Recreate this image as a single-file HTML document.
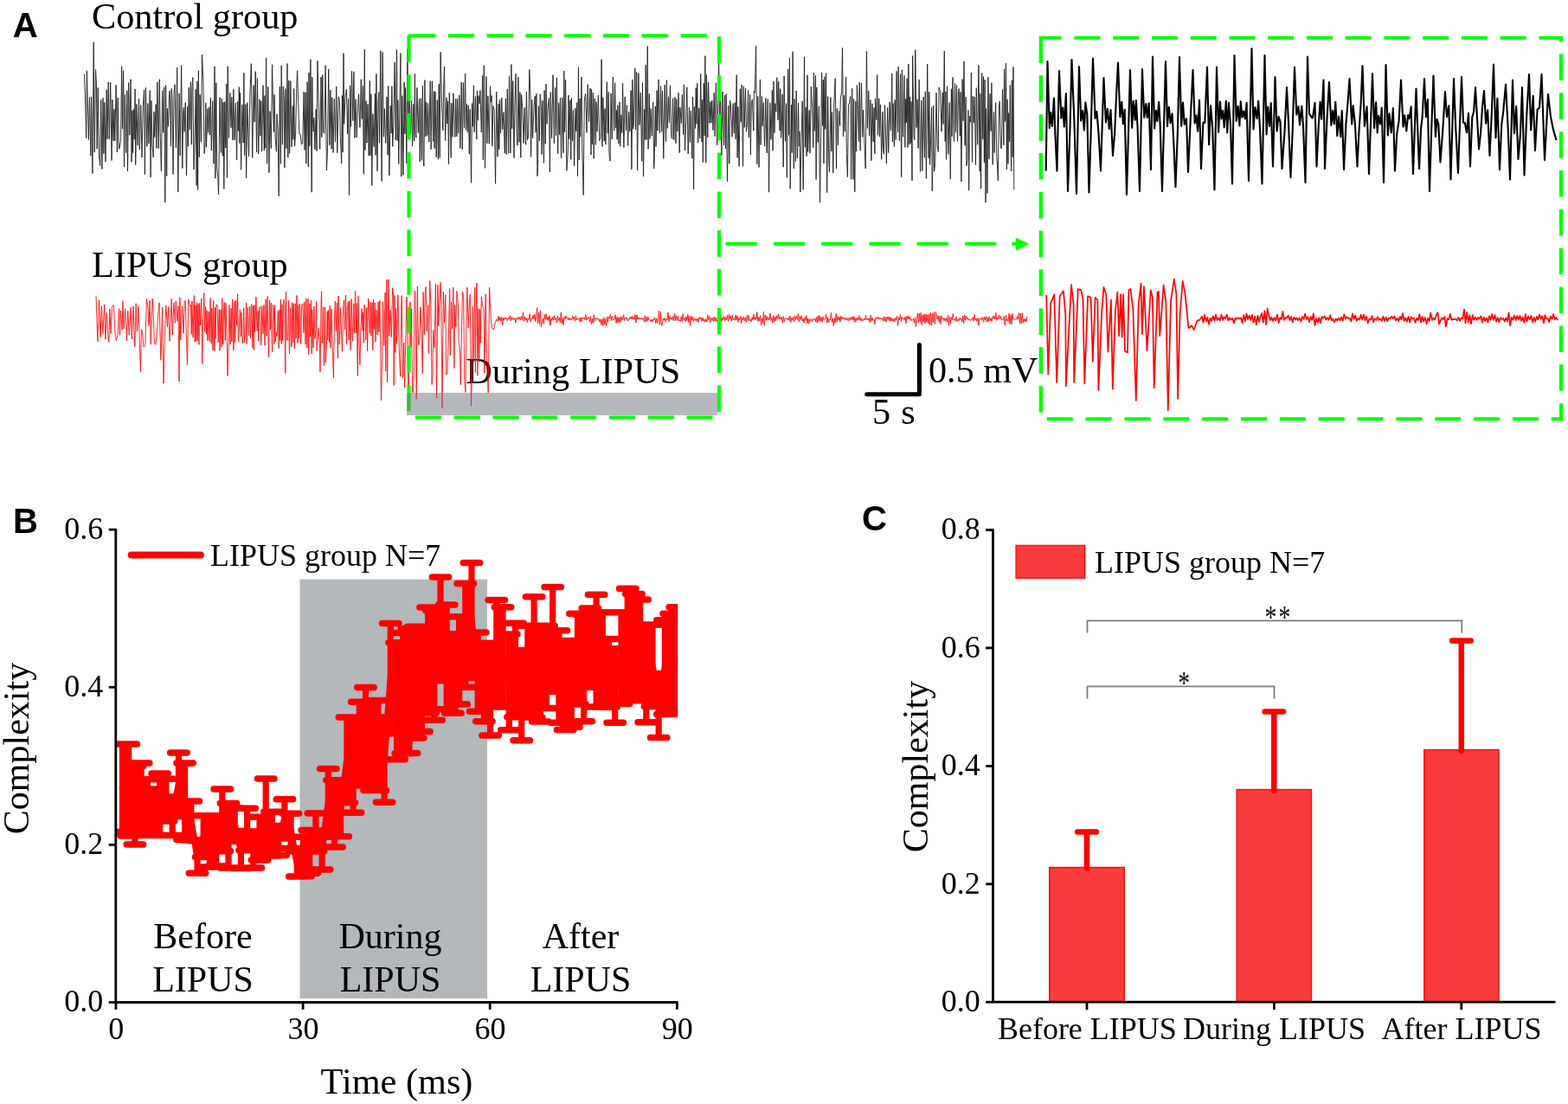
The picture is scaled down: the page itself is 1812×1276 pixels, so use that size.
<!DOCTYPE html>
<html lang="en">
<head>
<meta charset="utf-8">
<title>LIPUS complexity figure</title>
<style>
html,body{margin:0;padding:0;background:#fff;}
body{width:1812px;height:1276px;overflow:hidden;}
svg{display:block;}
</style>
</head>
<body>
<svg width="1812" height="1276" viewBox="0 0 1812 1276">
<rect width="1812" height="1276" fill="#fff"/>
<g id="panelA">
<g font-family='"Liberation Serif", serif' fill="#000">
<text x="106" y="33" font-size="42.3">Control group</text>
<text x="106" y="319.8" font-size="42.3">LIPUS group</text>
</g>
<text transform="translate(14.7,43.4) scale(0.98,1)" font-family='"Liberation Sans", sans-serif' font-weight="bold" font-size="41">A</text>
<g font-family='"Liberation Serif", serif' fill="#000">
<text x="538.3" y="443.3" font-size="42.3">During LIPUS</text>
<text x="1073" y="442" font-size="42.2">0.5 mV</text>
<text x="1008" y="490" font-size="42.3" word-spacing="1.5">5 s</text>
</g>
<path d="M1001.7,455.8 H1062.4 V398.4" fill="none" stroke="#000" stroke-width="5" stroke-linecap="round" stroke-linejoin="round"/>
<path d="M97.5,85.8 98.8,124.2 99.7,159.7 100.3,81.8 101,105 102.4,161.4 103.5,112.4 104.8,180.1 105.6,111.8 106.9,200.5 108.2,48.8 109.2,176.1 110.5,80.2 111.4,96.7 112.1,172.2 113.2,101.4 114.4,180.2 115.7,191.5 116.7,115.5 117.9,195.4 119,113.2 119.9,177.7 120.8,118.4 122,187.1 123.2,103.8 124.1,160.6 125.2,94.9 126.3,160.7 127.7,95.3 129,185.5 129.9,115.2 131,162.7 132,126.1 132.8,163 134.1,98.3 135.4,176 136.2,112.9 137.4,172.3 138.3,170.5 139.6,161.8 140.6,76.7 141.5,148.9 142.6,81.6 143.5,192.8 144.4,109.5 145.7,176.7 146.8,104.6 147.5,197.7 148.6,95.5 149.8,156.2 151,91.7 152.1,187.2 152.9,127.6 153.6,176.6 154.5,126.5 155.2,161.2 156.1,102.9 156.7,190.5 157.9,120.4 159.2,168.2 160.5,114 161.3,172.8 162.7,121.5 164,182 165.3,122.3 166.6,103.9 167.4,201.6 168.4,101.3 169.8,169.2 170.9,119.5 171.9,165.9 173.2,104.6 174.1,204.9 174.9,116.4 176,167 177.1,181.8 177.9,129 178.7,158.6 180.1,120.6 180.8,171.4 181.8,94.8 183.2,171.6 184.3,91.7 185.2,153.7 186.4,197.7 187.7,104.6 188.7,153.3 189.7,100.9 190.8,234 191.6,98.7 192.7,203.4 193.3,125.3 194.4,146.2 195.5,109.5 196.2,105.1 197.5,169 198.2,102.4 199,115.7 200.1,201.6 201,106.6 202.1,97.6 203.4,170.7 204.7,78.2 205.8,221.9 207.1,107.9 208.2,179.8 209.6,75.7 210.8,194.6 211.7,130.6 212.4,124.2 213.1,152.2 214.3,118.4 215.5,202.8 216.7,123.2 217.4,169.1 218.2,101.1 219.3,149.7 220.4,94.6 221.3,167.1 222,102.7 222.8,89.5 224,196 225,166.1 226.2,103.3 227.1,214.4 227.9,93.9 228.6,219.5 229.4,81.8 230.4,181.6 231.1,109.3 232.4,164.1 233.5,63.2 234.9,93.7 236.1,177.6 237.1,166 237.8,118.8 238.5,170.3 239.8,125.5 240.6,153.2 241.7,123.9 242.4,155.9 243.4,113 244.3,174 245.7,116.7 246.9,189.2 248,76.9 248.9,206.2 249.8,95.8 250.7,194.4 251.8,204.6 252.6,224.9 254,112.5 255.4,176.5 256.3,114 257.3,180.2 258.1,118.3 258.8,218.4 259.8,117.6 260.8,170.9 261.7,96.8 262.4,205.5 263.2,76.7 264.4,159.6 265.8,107.4 267,147.6 267.8,112.2 269,162 269.8,103.4 271.1,161.7 272.4,118.8 273.6,185 274.6,117.5 275.3,151.4 276.3,100.6 276.9,165.5 277.6,107.2 278.6,196.4 279.9,120.9 281.2,165.1 281.9,84.2 282.6,179.5 283.9,120.5 284.6,205.7 285.8,118.6 286.7,149 287.5,180.7 288.9,108.6 290.3,73.6 291.7,182.3 293.1,98.6 294.1,141 295.2,82.6 296.6,175.9 297.4,90.4 298.7,178 300,114.8 300.9,156.9 301.8,116.9 302.6,174.7 304,98.6 305.3,174 305.9,110.6 306.7,171.1 307.6,66.9 308.6,189.2 309.8,100.2 310.9,199.6 312,128.6 313.3,171.7 314.5,74.7 315.3,107 316.4,152.4 317.2,109.6 318.1,159.4 319.4,175.2 320,132 321.2,151.8 322.2,226.7 323.3,100.3 324.4,189.4 325.2,75.8 326.4,167.2 327.3,99.9 328.2,115.9 328.9,193.9 329.8,102.5 330.9,171.8 332,73.4 332.8,182 333.8,93.1 334.6,177.3 335.8,93.6 337,169.7 338.3,122.6 339,161.4 339.7,102.4 340.5,169 341.6,154.5 342.8,99.6 343.6,81.8 344.4,109.2 345.8,154.7 347.1,155.2 348.4,167.1 349.7,165.1 351.1,106 352,173.3 353.1,106.9 353.8,189.1 355.1,94.6 356.3,192.8 357,84.1 357.8,169 358.9,68.7 360.2,222.2 360.8,89.2 361.4,137.6 362.2,152.2 362.9,136 363.9,172.8 365.2,126.2 366,174.5 366.9,70.3 368.2,115.9 369.7,172.3 371,89 371.8,158.5 372.8,86.4 373.6,152.8 375,154.2 376.1,75.6 377.4,197 378.4,177.2 379.7,79.9 380.9,167.6 381.9,104.2 383.1,172.2 383.8,112.7 385.1,176.4 386.3,114.1 387.5,163.7 388.7,99.9 389.8,176.7 391.1,111.8 392.4,116.5 393.3,158.4 394.7,189.1 395.4,110.5 396.1,176 397,61.5 397.7,143.5 399.1,110.8 400.4,103.2 401.6,154.8 402.5,113.8 403.5,225.4 404.6,98.8 405.5,146.2 406.5,82.3 407.8,139.6 408.9,82.7 409.9,159.3 411.1,114.9 412.2,158.9 413.6,122.6 414.5,108.7 415.9,147.2 417.3,91.7 418.2,137.6 419.4,99 420.3,201.3 421.3,57.2 422,173.6 423.1,116.6 423.9,165 425,120.5 426.2,179.9 427.3,93.4 428,179.7 428.9,108.7 429.8,214.4 430.8,131.6 432.2,169.6 433.4,108.2 434.1,179.4 434.9,85.5 436,197.7 437.1,117 437.8,106.6 438.5,165.3 439.8,58.6 441.1,209.3 442.1,60.3 443.4,158.2 444.3,125.6 445.7,165.3 447,111.9 448,179.1 448.7,99.2 449.9,202.9 451.3,122.3 452.1,154 452.9,99.6 453.7,169.3 454.8,144.4 456.1,71.9 457.3,161.7 458.5,57.5 459.2,162.7 459.8,115.7 460.8,189.5 462.1,113.4 462.9,61.4 463.7,204.2 464.9,110.6 465.9,202.3 467.2,95 467.9,154.7 468.6,101.5 469.9,189.1 470.8,56.6 472,138.7 473.2,110.6 474.5,155.2 475.6,116.3 476.6,169.1 477.8,120.4 478.7,163 479.4,85.2 480.1,154.3 480.9,159 481.9,101.3 483.3,153.5 484.5,114.2 485.2,186.9 486.4,113.6 487.4,185.3 488.4,98.9 489.2,179.5 489.9,192 490.9,92.5 491.9,157.9 492.6,118.1 493.9,156.5 494.6,119.5 495.8,164 497.2,93.7 498.1,172.7 499.4,93.9 500.6,163.5 501.5,105.5 502.2,171.5 503,105.9 504.2,181.7 505.3,115.5 506.4,184.2 507.2,97.1 508.2,182.4 509.1,60.2 510.5,119.9 511.9,150.6 512.7,100.2 513.5,76.9 514.6,162.5 516,112.9 516.9,143 517.6,116.8 518.5,189.7 519.2,107.3 520,123.5 521.2,182.3 521.9,118.9 523.1,158.4 523.9,107.8 524.9,130.5 525.8,158.4 526.7,113.9 527.8,157.8 528.6,114.4 529.6,154.1 530.8,109.8 531.9,171.4 533.2,94.8 534.3,172.7 535.4,95.5 536.5,147.8 537.6,85.2 538.5,150.2 539.5,120.4 540.3,152.7 541.3,121.9 542.3,178.2 543.2,126.3 544.6,211.3 545.5,119.5 546.3,146.3 547.4,98.9 548.1,152.8 549.5,111.6 550.8,161.1 551.4,105 552.2,139.1 552.9,110.5 554.2,120 554.9,104.6 556.3,153 557.6,87.1 558.3,184.8 559.3,75.7 560.5,194.3 561.9,88.4 562.9,165.7 563.9,110.9 565.3,166.2 566.5,99.7 567.4,117.7 568.2,110.6 568.9,168.8 569.9,122.7 571.2,127.2 572.6,212.3 573.7,106 575.1,181.1 576.1,120.2 576.8,172.7 577.6,115.3 578.5,153.7 579.8,112.9 580.7,149.8 582,129.7 583.3,177.2 584.4,113.9 585.2,178.6 586.3,102.8 587.6,177.2 588.5,87.8 589.9,177 590.9,74.5 591.7,148.8 592.8,93.5 594,182.5 595,116.9 596.1,85.2 596.9,147.2 598,168 598.9,89.2 600,164.2 600.9,106.6 601.8,182.2 602.6,109.3 603.8,125.6 605.1,165.3 606.2,124.4 607.6,167.2 608.4,105.8 609.5,161.8 610.5,158.9 611.8,80.4 612.9,109.4 613.6,181.3 614.7,115.3 615.6,159.6 617,123 618.2,111.2 619.1,153 619.9,108.3 620.9,203.6 621.6,192.6 622.4,122.5 623.3,162.8 624.2,108.8 625.3,122.4 626.1,178.4 627.1,116.2 628.5,188.4 629.1,104.6 630.3,166.4 631,97 632.1,143.4 633.1,123.3 634.5,113.4 635.4,198.9 636.3,106.4 637.6,159.7 639,86.5 640.4,165.7 641.6,101.2 642.5,156.7 643.4,89.8 644.7,177.7 645.7,118.8 646.7,155.7 647.5,113.1 648.5,183 649.8,113 651,176.7 651.8,81.9 652.5,152.7 653.6,92.2 654.9,197.3 656.3,173.7 657,110.1 657.9,160.6 659,115.8 659.8,184.2 660.4,113.3 661.6,162.9 662.5,127.4 663.6,191.7 664.9,125 665.9,151.7 666.8,118.6 667.5,203.6 668.5,77.7 669.3,185 670,114 670.7,158.2 672,89 672.9,176 674.2,225.4 675.3,115.2 676.7,108.5 678,153.4 679.2,97.6 680.6,140.7 682,102 683,178.9 683.6,103.3 684.4,167 685.4,107.2 686.2,183.4 687.2,113.9 688.4,167.4 689.1,117.6 690.1,152.2 691.4,110 692.8,162.7 694.1,159 695.1,68.7 696,169.4 696.9,112.8 698.3,163.1 699,125.6 699.9,166.9 701.3,94.7 702.3,153.9 703.2,106.3 703.9,176.7 705.1,186.1 706,108 707.3,161 708.3,89 709.7,151 710.6,95.7 711.6,147.8 712.5,127.5 713.1,161.2 713.9,121.5 714.8,166.1 716.1,117.9 716.7,169.3 717.9,132.9 718.8,153.3 719.6,96.3 720.9,170.4 722.2,111.9 722.9,132.1 723.6,150.7 724.4,121.6 725.7,168.3 726.7,129.4 727.8,151.9 729.1,104.6 729.9,195.8 730.9,91.9 731.6,149.2 732.3,143 733.1,105.6 733.8,78.8 734.5,150.1 735.7,83.3 736.6,197.1 737.9,84.6 739,144.5 740.3,106.9 741.7,186.3 742.5,95.7 743.5,204.1 744.7,126.2 745.5,161.5 746.2,74.9 747.2,161.4 748.3,53.3 749.1,172.2 750.3,108.3 751,160.4 752.1,125.5 753.3,157.1 754.2,128.1 754.8,118.1 755.6,195 756.2,186.6 757.3,122.8 758.1,169.4 759.1,104.5 760,151.1 761.1,91.9 762.4,153.7 763.6,99.4 764.7,152.2 765.5,105 766.8,183.3 768.2,97.9 769.5,163.7 770.4,92.5 771.2,148.3 772.5,111.8 773.4,141.8 774.5,98.7 775.8,158.8 777,160.4 777.6,113.7 778.8,161.7 779.9,112.4 781,165.6 781.7,114.6 782.9,151.9 784.1,107.3 785.2,176.5 785.9,124.1 787.3,142.6 788.4,109.2 789.7,155.5 790.4,97.8 791.5,174.1 792.2,156.5 792.8,138.3 793.8,100.7 795.2,177.8 796.5,123.9 797.4,164.5 798.4,128 799.8,183 800.6,112 801.6,218.9 802.3,123.4 803.5,148.4 804.2,101.5 804.9,143.2 805.8,96.4 806.7,165.2 807.9,125.1 808.7,160 809.7,85.4 811,163.9 811.7,115.3 812.3,187.5 813.2,96 814.1,156.8 814.9,64.6 815.8,188.2 816.5,86.6 817.8,158.8 818.6,94.9 819.9,142.3 821,117.7 821.9,142 822.8,116.3 824,150.5 825.2,107.2 826.2,157.6 827.4,95.8 828.8,167.7 829.7,119.2 830.6,68.8 831.7,149.2 832.6,109.5 833.9,179.7 835.1,106 836.5,167.8 837.5,110 838.5,171.7 839.2,108.6 840.5,209.8 841.7,122.1 842.8,189.2 843.6,116 844.6,122.9 846,158.2 847.2,119.5 848.3,154 849.3,118.4 850.2,160.9 851.2,86.6 852.1,182.3 852.9,123.2 854.1,192.2 855.3,102.7 856.2,141.2 857.2,98 858.6,192.2 859.4,99.8 860.2,147.2 861.6,101.9 862.4,152.2 863.8,140.8 864.6,104.5 865.3,158.9 866.7,109.3 867.4,178.9 868.3,118.9 869.4,114.8 870.8,151.1 871.4,105.4 872.3,107.2 873.6,53.4 874.9,189.6 875.8,111.3 877.1,193.4 878.4,91.9 879.1,167.5 880.4,111.4 881.1,145.8 882.3,118.4 883.6,169.1 884.9,113.5 886.1,176.8 887.3,114.5 888.6,222.2 889.8,118.8 891,161.3 892.4,104.2 893.1,174.2 894,93.9 895,153.6 895.9,119.6 896.9,128.9 897.8,89.7 899,138.7 899.7,94.4 901.1,150.8 901.8,102.5 902.6,159.6 903.3,146.6 904.1,109 905.2,193.1 906.1,88 907.5,163.1 908.6,119.7 909.3,205.2 910.7,79.9 911.6,156.3 912.5,66.8 913.2,218 914.6,121.2 915.2,176.6 916.1,59.7 917.3,194.7 918.1,114.4 919.4,186.5 920.2,105 921.4,182.7 922.6,119.2 923.3,169.1 923.9,151.8 924.9,222 925.9,161.9 927.2,116.8 928.2,219.1 929.5,65.8 930.4,170.1 931.2,124.2 932.1,180.7 933,86.7 933.7,175.5 935.2,127.4 936,177.1 937.3,100.2 938.7,124.4 939.8,170.7 940.5,84.1 941.3,151.3 942.5,86.9 943.1,207.5 943.8,100.9 945.1,164.4 946.4,122.8 947.5,234 948.6,164.1 949.6,83.9 950.6,145.2 951.3,92.3 952,189 952.8,88.6 953.8,149.2 954.6,84.6 955.7,222.6 956.7,111.6 957.8,185.5 958.5,198.7 959.9,112.6 960.9,174.9 961.6,129.6 962.8,200.1 963.9,117.9 965.2,90.5 966.5,195 967.3,125.4 968.5,167.6 969.4,128.5 970.7,145.2 971.3,114.4 972.7,106 973.5,55.2 974.5,157.8 975.5,110 976.3,152.1 977.6,89 978.3,176.6 979.4,204.7 980.6,120.5 981.6,119.1 982.8,111.5 983.6,207.3 984.7,102.2 986,207.4 986.6,114.5 987.8,221.7 988.9,117.1 989.6,175 990.4,98.6 991.3,121.6 992.5,163.5 993.2,95 994.2,174.1 995.5,96 996.7,158.5 997.6,127 998.9,163.5 1000.2,194.9 1001.5,59.2 1002.4,148.4 1003.8,105.1 1004.6,157 1005.9,115.4 1006.9,185.7 1008,119.8 1009.2,163.9 1010.1,124.5 1010.9,177.8 1011.5,113.8 1012.9,138.5 1013.7,86.5 1014.5,156.3 1015.8,113.9 1016.5,157.8 1017.4,121 1018.7,184.3 1020,129.2 1020.6,171.7 1021.4,178.1 1022.5,121.6 1023.5,154.5 1024.4,189 1025.7,124.3 1026.7,176.5 1028.1,117.9 1029.4,150.9 1030.8,85 1031.4,163.8 1032.1,119.6 1033.4,169.6 1034.1,115.3 1035.2,161.7 1036.1,82.1 1037.5,152.8 1038.2,77 1039.4,162.7 1040.6,85.5 1041.7,204.6 1042.4,80.8 1043.6,158.2 1044.9,87.2 1045.9,170.3 1046.7,114.4 1047.4,141.7 1048.1,90.6 1049,170.5 1049.9,73.9 1050.9,167.2 1051.6,111.9 1052.3,165.5 1053.1,117.4 1054,208.7 1054.7,64.3 1056.1,158.9 1056.9,161.7 1057.8,57.7 1059,147.5 1060.1,114.7 1061.1,171.4 1062.2,91.9 1063.5,198.3 1064.8,116 1065.8,197.5 1067.2,112 1068.4,182.2 1069.3,105.9 1070.4,206.3 1071.7,74.1 1073.1,182.7 1073.8,106.3 1074.6,190.2 1075.6,161 1076.6,124.1 1077.2,220.8 1078,189.2 1078.7,122 1079.6,198.2 1080.8,188.5 1082,107.1 1083.1,167.3 1084.3,175.5 1085,100.9 1085.9,103.3 1086.7,106.3 1088,152 1089.3,106.8 1090.1,143.5 1091.3,58.9 1092.2,163.4 1092.8,105.9 1093.5,184.3 1094.5,99.6 1095.8,178.4 1097.2,118.6 1098.3,207.1 1099.4,102.8 1100.1,157.7 1101,89.3 1102.5,163.6 1103.5,96.4 1104.5,153.1 1105.5,98.6 1106.5,163.3 1107.5,105.8 1108.2,102.4 1109.3,156.9 1110.1,106.4 1110.9,210 1112.1,91.6 1113,139.8 1114,70.9 1115.1,168.2 1116.1,111.9 1116.9,191.8 1117.9,184.3 1118.9,127.3 1119.7,220.1 1120.5,134.1 1121.7,141.2 1122.4,84.1 1123.5,187.4 1124.2,111.2 1125.3,141.9 1126.3,112 1127.5,190.6 1128.3,101.6 1129.7,167.3 1130.9,75.2 1132.2,198.2 1132.8,108.3 1133.6,218.1 1134.7,84.6 1135.8,160.9 1136.5,88.4 1137.4,187.8 1138.1,92 1139,234 1139.7,125.3 1141,223.4 1141.9,89.3 1143,183.7 1144,108.3 1145.1,151.6 1145.9,95.7 1147.2,190.3 1148.4,129.5 1149.2,176.6 1150.6,118.5 1151.8,181.7 1152.5,191.5 1153.3,208.7 1154.3,125 1155.2,117 1156.4,169.8 1157.3,171.8 1158.6,103.4 1159.9,167.8 1160.6,79.7 1161.7,140.5 1162.5,73 1163.4,195.7 1164.1,114.8 1165,189.2 1165.6,130.5 1166.6,163.9 1167.3,98.4 1168.6,197.8 1169.4,92.8 1170.2,181.7 1171,77.4 1171.8,219.2" fill="none" stroke="#1c1c1c" stroke-width="0.9" stroke-linejoin="round"/>
<path d="M1208.7,197.5 1210.5,71 1212.8,148 1214.2,130 1215.9,145.9 1218,113.5 1219.3,153.1 1221.5,197.5 1224,82 1226.4,136.6 1228.2,124.2 1229.8,146.4 1231.9,108 1234,221 1236.5,149.3 1238.5,69 1241.4,139.8 1244,224 1247,77 1249.2,139.7 1251.2,127.7 1252.9,150.5 1254.4,118.4 1256.3,132.2 1258.5,222.5 1260.5,157.9 1263,67.5 1265.6,136.8 1267.4,128.9 1269.5,153.4 1272,197.5 1275.5,90 1277.9,141.4 1279.8,125.8 1281.8,148.8 1283.5,127 1286,180 1288.1,154.9 1290.1,109.1 1292,72.5 1294.4,135.1 1296.3,117.7 1297.9,143.1 1299.7,126.8 1302,225 1306,81 1308.2,147.6 1309.7,116.7 1311.7,138.7 1312.9,116.1 1314.6,147.1 1317,221 1320,80 1322.2,135.7 1324.3,120 1325.7,135.8 1327.7,119.2 1330,196 1332,65.5 1334.1,148.5 1336,127.7 1337.4,140 1339.2,118 1340.6,142.6 1343,221 1347,71 1349,145.9 1350.8,123.7 1352.7,142.1 1354.6,131.4 1356.2,162.1 1358.5,216 1360.9,152.5 1363,66 1365.2,145.8 1367,118.5 1368.7,143.8 1371,137.2 1373,199 1375.7,139.2 1378.5,81 1380.7,142.4 1382.5,133.4 1384.2,151.8 1386,115.8 1388,195 1390.4,141.6 1392.3,142.1 1395,77.5 1397.1,167.2 1399.1,122.1 1401.2,148.2 1403.5,219.5 1406,77.5 1408.1,152.8 1410,117.6 1411.5,137.4 1413.2,127.8 1414.7,147.3 1416.8,116.9 1418.3,153.4 1419.9,118.8 1422,144 1424,212.5 1426.5,64 1428.7,140 1430.6,122.8 1432.4,145.2 1433.8,117.3 1435.4,135.7 1437.1,128.5 1438.8,137.3 1440.6,118.8 1443,209 1446.5,56 1448.5,149.4 1450.3,124.1 1452.6,136.9 1454.2,116.9 1456,148.3 1458.5,212.5 1461.5,64 1463.6,155.4 1465.2,123.6 1467,146 1468.7,119 1471,192.5 1473.5,89 1475.6,151.5 1477.5,134.8 1479.5,140.7 1481.5,195 1484.5,152.1 1487,101 1489,141.6 1491.5,205 1493.7,151.1 1496,77.5 1498.3,132.6 1500.5,123.1 1502,144.5 1504.3,122.7 1506,145.7 1508.5,211 1511,65.5 1513,131.4 1515.5,135.4 1516.9,136.3 1519.5,118.8 1521.5,192.5 1524,141.3 1525.6,117.7 1527.2,137.6 1529.5,92.5 1531,195 1533.4,139.6 1536,95 1538.3,144.8 1540.1,127.8 1541.7,143.2 1543.3,117.9 1545.3,156.9 1547,134.6 1549.2,158 1550.8,128.1 1553,196 1555.4,143.6 1557.4,120.2 1559.5,91 1562.2,143.4 1563.7,122.4 1565.9,143.2 1568.5,192.5 1570.4,153.2 1572.6,120.3 1574.5,76 1576.9,146 1579.6,123.4 1582,201 1586,85 1588.1,148 1590.1,118.4 1591.7,153.4 1593.1,133.9 1595.1,143.4 1596.8,124.5 1599,211 1601.5,75 1603.8,156.5 1605.5,131.3 1607.7,153.3 1609.9,125 1612,197.5 1614.2,155 1616.6,139.9 1619,92.5 1621.5,146.5 1623.2,133.2 1625.3,151.5 1627.1,133 1628.6,137.2 1630.6,123.4 1633,201 1636.5,102.5 1640,195 1642.2,147.1 1643.6,136.2 1646,91 1647.9,135.2 1649.8,114.8 1652,221 1654.3,147.1 1656.5,87.5 1658.9,157.9 1660.5,137.8 1662.3,143.5 1664.5,187.5 1667.2,151.7 1670,106 1672,135.1 1674.3,122.4 1676.5,207.5 1680,91 1682.2,146.9 1685,200 1689,89 1691,141.6 1692.8,141.7 1695,153.2 1697,130.9 1699,192.5 1701.3,135.3 1703.1,129.2 1705,101 1709,172.5 1711.1,153.7 1713,124 1715,105 1717.1,142.6 1719.1,127.4 1721.5,180 1723.8,131.8 1726,74.5 1728.5,159.2 1730.4,113.8 1733,196 1735.3,143.8 1737.4,127.4 1740,97.5 1742.6,146.5 1745,207.5 1748,92.5 1750,154.3 1752.2,122.8 1754.5,184 1756.9,155.9 1759,101 1761.5,202.5 1764.2,134.3 1767,86 1769.2,150.3 1771.7,110.7 1774,174 1776.6,126.5 1779,124.6 1781.5,86 1785,185 1789,109 1792,135 1795,150 1798.5,162" fill="none" stroke="#000" stroke-width="2.1" stroke-linejoin="round"/>
<path d="M111,341.8 112.9,394.8 114.6,347 116.1,389.5 117.4,353.7 118.9,385.6 120.7,351.9 121.8,392.2 123.4,361.3 124.3,380.9 125.8,395.2 126.9,356.9 128.1,385.5 129.5,354.1 131.4,353 132.9,383.3 134.3,393.6 136.1,387.2 137.6,356.7 138.5,387.4 139.5,359.2 141.1,381.4 141.9,347.8 143.1,379.9 144.6,356.8 146.5,393.6 147.8,359.3 149.3,387.1 151.2,355.3 152.3,392 154,353.9 155.8,400.6 157.2,350.7 158.4,383.1 159.8,354.3 160.7,377.7 162.4,429.7 163.5,380.8 164.6,383.2 165.9,401 167.8,399.3 169.4,345.4 170.9,354.6 172,376.4 173.1,347.2 174.3,397.9 176,345 176.9,355.6 178.4,396.5 179.7,398.4 181.2,387.7 183,358.8 184,349.8 185.9,416.2 187.6,355 189,443.2 190.6,385 191.8,352.9 193.5,378.1 194.6,354.4 196.1,394.3 197,376.2 198.2,345.2 199.3,387.1 200.9,349.8 202.4,373.3 203.3,347.9 204.9,371.5 206.1,353.8 207,440.9 207.9,343.7 208.7,392.8 210.6,353.7 212,385.3 213.2,348.2 214.3,347.5 215.2,384.6 216.5,421.6 217.7,345.9 219.6,353.9 220.5,352.6 221.3,386.4 221.9,348.1 223.1,389.9 224.2,341.6 225.2,395.1 225.9,352.7 226.8,394.4 227.7,349.7 228.2,393.6 229.1,351.6 230,398.4 230.6,350.1 231.6,375.9 232.7,344.9 233.7,420.5 234.5,378.1 235.7,338.7 236.7,384 237.6,354.5 238.5,386.3 239,358.7 239.9,393.6 241.2,360.1 242.1,394.4 243.1,344.5 244.2,397 244.8,356.2 246,404.6 246.7,347.6 247.8,405.7 248.5,355.6 249.2,391.4 249.9,351.8 251.1,353 252.1,395.8 253.3,357.7 254,405.2 255,358.2 256.1,400.9 256.7,344.7 257.7,398.2 258.6,355.9 259.3,349.6 260.3,393.3 261,350.3 262,384.8 263,434.3 263.9,403.9 265.1,352.6 266,398.2 267.1,356.4 267.9,394.8 268.7,345.8 269.9,404.9 270.9,348.1 271.5,395.7 272.7,347 273.7,376.2 274.6,339.7 275.4,394.8 276.2,384.9 277.4,357.9 278.4,389 279,361.2 280.2,396.8 281.1,386.8 281.7,355.7 282.5,395.8 283.7,384.4 284.6,349.8 285.2,397.4 286.3,355.3 287.6,388 288.7,354.3 289.5,391.1 290.8,351.5 291.8,402.3 292.6,353.5 293.4,404.8 293.9,352.5 294.7,383.7 295.9,343.2 297.1,382.6 298.2,359.6 298.7,393.9 299.7,356.4 300.7,354.2 301.8,399.1 302.8,353.7 304,385.8 305,352.5 306.1,399.4 307.2,346 308,388.4 309.2,342.5 310.5,412.7 311.6,346.8 312.5,381 313.3,350.2 314.6,406.9 315.3,352.1 316.4,357.2 317,397.4 317.6,352.6 318.3,394.6 319.4,384 320.2,388.4 321.4,359.2 322.2,402.6 323.1,357.9 323.8,393.3 324.4,346.2 325.2,397.4 326,351.7 326.6,393.7 327.9,346.2 329,352.5 329.8,431.4 330.4,337.3 331.6,393 332.8,393.5 333.6,347.4 334.5,409.2 335.7,355.8 336.8,401.3 337.8,349.6 338.7,395.8 339.2,350.8 340.4,403 341.3,350.9 342,390.7 342.9,341.4 344,396.7 344.7,352.1 345.6,391.3 346.5,351 347.7,397.4 348.6,353.3 349.8,350.8 350.9,384.7 351.9,348.8 353,397.9 353.9,344.8 354.8,402 356,345.6 356.7,409.8 357.9,351.1 358.6,389.2 359.5,346.8 360.2,409 360.8,357.9 362.1,402.1 363,354.2 363.9,391.7 364.9,381.6 365.6,348.4 366.1,405.7 367.4,388 368,379.3 369.3,396.9 370,429.9 371,352.4 371.6,337 372.3,396.8 372.9,385 373.7,355.2 374.4,422.7 375.6,354.9 376.2,419.1 377.5,398.9 378.2,359.8 378.8,393 379.4,358.5 380.5,395.5 381.2,353.4 381.9,401.9 383.1,356.9 384.1,399 385.4,436.9 386.4,373.2 387.3,348.1 388.3,382.8 389.4,350.1 390.4,414.3 391,342 392.2,398.3 392.9,381.2 393.5,355.6 394.8,392.6 395.5,406.3 396.6,356.4 397.7,346.7 398.6,381 399.6,341 400.5,397.7 401.3,357.3 402.5,348.9 403.2,393 403.9,347.7 405.1,404.7 406.2,345.6 407.5,394.4 408.7,351 409.4,385 410.5,336.5 411.3,385.2 412.2,350.5 413.3,434.4 414,342.3 415.1,397.1 415.9,421.6 416.9,380.2 418.1,356.8 419.1,382.3 419.7,361 420.3,396.4 420.9,353.6 421.7,352.1 422.7,392.8 423.8,355.3 424.6,405.7 425.5,345.1 426.4,348.5 427.2,385.1 428.4,349.2 429,388.1 430.1,349.9 430.8,404.7 431.5,346.2 432.2,380.6 433.2,349.6 434,394.9 435,358.2 436.2,387 437.1,348.9 438,383.7 438.8,347.2 439.4,381.1 440.5,462.7 441.4,424.1 442.6,348.7 443.8,399.7 445.1,338.1 445.7,429.1 446.9,323 447.6,441.7 448.9,323 449.8,388.2 451.1,358.2 452.3,389.7 453.6,332.6 454.5,340 455.2,445.5 456,341.4 456.8,407.4 457.6,356.5 458.5,397.3 459.9,340.9 461.3,403.9 462.7,435.1 463.5,379.1 464.2,341.7 465.5,436.4 466.7,396.3 467.6,448.2 468.9,386.1 470,343.2 470.9,400.5 471.6,454.8 472.3,447.4 473.2,383.6 474,349.1 474.8,401.5 475.4,356.4 476.7,453.4 477.6,453.5 478.3,429.2 479,336.2 480,338.8 481.2,461.6 482.4,330.9 483.4,398.7 484.7,396.9 485.9,355.1 486.9,378.6 488.3,431.8 489.1,337.6 490.3,386.6 491.2,340.5 492.1,331.5 493.3,383.1 494.7,352.5 495.6,408.6 496.7,324.4 497.8,347.9 499.1,444.5 500,426.6 500.7,381.8 502,401.7 503.4,328 504.6,460.1 505.9,329.4 506.9,376.9 507.7,352.3 509,326.4 509.8,350 511,471.8 512.3,337.3 513.5,372.9 514.8,340.7 515.7,433.3 516.9,431.5 518.3,392.4 519.6,333.6 520.3,410.5 521.5,348.9 522.7,380.2 523.8,332.1 524.9,425.6 525.6,352.5 526.9,378.3 527.9,336.4 529.3,349.5 530.1,394.2 531.3,403 532.3,444.7 533.2,397.5 534.4,337 535.6,340.8 536.8,437.3 537.9,453.3 538.7,382.7 539.9,332.2 541.1,379 542.4,350.3 543.3,340.2 544.4,469.4 545.1,448.8 546.5,354.3 547.3,418.4 548.8,332.2 549.4,430.5 550.2,358.4 551,327.3 551.9,434.2 552.8,356.6 553.8,418.1 554.6,357.5 555.2,396.7 556.3,342.9 557.7,353.5 559,356.6 559.9,431.1 561.2,340.2 562,391.7 563.2,429.2 564.2,453.9 565.6,332.3 567.5,372 569,380 570.5,381 572,374 573.5,369 575,371.5 576,365.4 576.9,370.6 577.9,366.6 578.8,371.3 579.8,366.6 580.7,375.7 581.7,367.1 582.6,370.1 583.6,366.6 584.5,369.1 585.5,367.6 586.4,370.7 587.4,367.3 588.3,368.8 589.3,364.8 590.2,370.6 591.2,366.3 592.1,369.5 593.1,367.6 594,369.4 595,367.6 595.9,373.2 596.9,367.7 597.8,369.1 598.8,366.3 599.7,369.3 600.7,366.4 601.7,369.8 602.6,365.4 603.6,369.8 604.5,361 605.5,371.2 606.4,366.1 607.4,369.9 608.3,367.4 609.3,372.4 610.2,368.1 611.2,369.6 612.1,362.7 613.1,372.1 614,368.2 615,368.9 615.9,364.4 616.9,369 617.8,363.2 618.8,371.7 619.7,364.2 620.7,355.8 621.6,373.4 622.6,361.1 623.5,374.8 624.5,358.7 625.4,377.7 626.4,373.3 627.3,368 628.3,374.4 629.3,363.6 630.2,369.4 631.2,362.7 632.1,369.7 633.1,366.2 634,370.8 635,364.8 635.9,376.2 636.9,367.5 637.8,370.5 638.8,366 639.7,370 640.7,364.6 641.6,369.6 642.6,367.6 643.5,373 644.5,365.1 645.4,370.5 646.4,367.2 647.3,372.7 648.3,361.2 649.2,373.7 650.2,367.4 651.1,375.6 652.1,366.4 653,368.8 654,364.8 655,368.2 655.9,367.3 656.9,370.2 657.8,367.4 658.8,369.7 659.7,368.1 660.7,370.1 661.6,365.4 662.6,369.2 663.5,366.3 664.5,371.2 665.4,364.8 666.4,370 667.3,367.7 668.3,369.1 669.2,367.9 670.2,372.1 671.1,366.6 672.1,371.5 673,366.9 674,368.3 674.9,366.9 675.9,369.7 676.8,363.6 677.8,370.2 678.7,367.3 679.7,368.2 680.6,366.4 681.6,372.5 682.6,365.7 683.5,374.6 684.5,368.1 685.4,373.5 686.4,363.8 687.3,370.8 688.3,367.7 689.2,369.1 690.2,367.6 691.1,369.6 692.1,368.8 693,372.3 694,368.9 694.9,375.5 695.9,368.7 696.8,376.7 697.8,366.9 698.7,374.9 699.7,368.6 700.6,376.4 701.6,366 702.5,372.2 703.5,366 704.4,368.1 705.4,363.6 706.3,370.6 707.3,365.5 708.3,370.1 709.2,368.8 710.2,369.2 711.1,363.7 712.1,373.6 713,366.3 714,372.7 714.9,366.9 715.9,373.4 716.8,366.2 717.8,371.6 718.7,366.1 719.7,369.7 720.6,363.6 721.6,370.6 722.5,367.4 723.5,369.1 724.4,366.8 725.4,371.1 726.3,368.5 727.3,369.5 728.2,366.2 729.2,368.8 730.1,365.5 731.1,368.9 732,366.4 733,369.3 733.9,363.6 734.9,373.1 735.9,363.7 736.8,369.2 737.8,366.9 738.7,369.3 739.7,367.5 740.6,369.3 741.6,367.1 742.5,369.4 743.5,367.7 744.4,371.9 745.4,364.7 746.3,372.2 747.3,365.8 748.2,371.3 749.2,366.4 750.1,370 751.1,369.6 752,371.7 753,369.2 753.9,372.1 754.9,368.8 755.8,370 756.8,367.1 757.7,373.7 758.7,368 759.6,373.6 760.6,368.6 761.6,359.3 762.5,375.2 763.5,360.4 764.4,376.2 765.4,375.6 766.3,368.3 767.3,370.2 768.2,367.5 769.2,372.3 770.1,368.5 771.1,369.8 772,361 773,371.8 773.9,365.1 774.9,369.1 775.8,367.1 776.8,369.7 777.7,365.6 778.7,370.8 779.6,362.6 780.6,370.4 781.5,364.7 782.5,370.5 783.4,365.5 784.4,370.9 785.3,369.6 786.3,371.6 787.2,365.8 788.2,371.6 789.2,362.9 790.1,369.6 791.1,367.3 792,371.3 793,366.2 793.9,370.6 794.9,363.5 795.8,372.7 796.8,365.5 797.7,376.6 798.7,365.1 799.6,369.9 800.6,366.4 801.5,371.6 802.5,367.9 803.4,370.5 804.4,368.3 805.3,371.5 806.3,367.9 807.2,372.6 808.2,366.4 809.1,369 810.1,367.2 811,371.3 812,367.1 812.9,371.1 813.9,368.8 814.9,372.3 815.8,368.8 816.8,372 817.7,364 818.7,369.4 819.6,365.7 820.6,372.9 821.5,367.4 822.5,370.3 823.4,367.4 824.4,371.5 825.3,366 826.3,371.1 827.2,366.9 828.2,371.6 829.1,369.1 830.1,371.7 831,365.1 832,371.5 832.9,364.1 833.9,372 834.8,367.2 835.8,369.7 836.7,365.6 837.7,370.6 838.6,366.8 839.6,369.6 840.5,364 841.5,371.2 842.5,363.1 843.4,368.9 844.4,364.9 845.3,371.1 846.3,363.9 847.2,369.7 848.2,368 849.1,369.9 850.1,364 851,369.9 852,364.8 852.9,372.4 853.9,367.1 854.8,369.7 855.8,365.4 856.7,373.6 857.7,366.8 858.6,369.8 859.6,366.3 860.5,370.8 861.5,367 862.4,372.6 863.4,364 864.3,370.7 865.3,364.4 866.2,370.5 867.2,369 868.2,371.9 869.1,366.6 870.1,369.9 871,363.2 872,369.6 872.9,366.5 873.9,369.4 874.8,360.7 875.8,371.5 876.7,366.7 877.7,371.1 878.6,364.7 879.6,375.7 880.5,367.9 881.5,373.5 882.4,360.3 883.4,376.1 884.3,364 885.3,370.1 886.2,365.5 887.2,370.4 888.1,367.4 889.1,369.5 890,362.1 891,370.5 891.9,367.3 892.9,373.3 893.8,364.8 894.8,371.9 895.8,366.4 896.7,370.6 897.7,364.8 898.6,368.7 899.6,362.7 900.5,369.4 901.5,366.4 902.4,369 903.4,366.5 904.3,373.2 905.3,365.7 906.2,371.7 907.2,367.8 908.1,368.6 909.1,368 910,369.5 911,367.3 911.9,370.5 912.9,365.2 913.8,372.5 914.8,367.3 915.7,370 916.7,366.6 917.6,371.9 918.6,364.9 919.5,369.3 920.5,365.6 921.5,369.5 922.4,362.6 923.4,372.1 924.3,365.4 925.3,369.5 926.2,364.8 927.2,371 928.1,368.2 929.1,373.2 930,366.7 931,369.9 931.9,364.6 932.9,373.8 933.8,368 934.8,373.9 935.7,369 936.7,370.8 937.6,368.6 938.6,371.7 939.5,368.7 940.5,370 941.4,368.2 942.4,371.8 943.3,366.6 944.3,373.3 945.2,365 946.2,371.5 947.1,364.6 948.1,371.1 949.1,366.6 950,372.4 951,365.9 951.9,369.7 952.9,368.5 953.8,369.2 954.8,363.4 955.7,373.2 956.7,367 957.6,372.6 958.6,368.9 959.5,369.9 960.5,361.5 961.4,372.3 962.4,368.3 963.3,376.8 964.3,367.8 965.2,373.4 966.2,362.5 967.1,371.7 968.1,365.7 969,370 970,366.2 970.9,372 971.9,365.4 972.8,369.2 973.8,366.5 974.8,368.7 975.7,367.2 976.7,370 977.6,366.9 978.6,370.1 979.5,367.7 980.5,370.9 981.4,367.1 982.4,370.1 983.3,366.5 984.3,369.6 985.2,365.7 986.2,370.4 987.1,365.8 988.1,372.7 989,367.7 990,370.6 990.9,366.8 991.9,369.7 992.8,364.5 993.8,370.5 994.7,367.2 995.7,371.2 996.6,368.6 997.6,370.7 998.5,368.2 999.5,369.9 1000.4,364.4 1001.4,369.9 1002.4,368 1003.3,369.9 1004.3,367.8 1005.2,372.9 1006.2,364.1 1007.1,371 1008.1,367.3 1009,370.3 1010,368.9 1010.9,374.7 1011.9,367.1 1012.8,368.9 1013.8,366.4 1014.7,369 1015.7,366.6 1016.6,369.1 1017.6,367.3 1018.5,369.2 1019.5,367.9 1020.4,370.8 1021.4,365.8 1022.3,371.5 1023.3,366.7 1024.2,371.9 1025.2,366.1 1026.1,369.4 1027.1,366 1028.1,371 1029,366.5 1030,371.1 1030.9,368 1031.9,371.3 1032.8,368.6 1033.8,371.7 1034.7,367.1 1035.7,369.7 1036.6,365.5 1037.6,376.3 1038.5,366.9 1039.5,369.6 1040.4,363.5 1041.4,371.5 1042.3,366.2 1043.3,368.9 1044.2,367.7 1045.2,369.9 1046.1,366.1 1047.1,373.7 1048,365.3 1049,369 1049.9,365.2 1050.9,368.8 1051.8,366.6 1052.8,370.8 1053.7,369.3 1054.7,370.1 1055.7,368.3 1056.6,373.2 1057.6,367 1058.5,377.4 1059.5,368.2 1060.4,362.1 1061.4,372.8 1062.3,362.1 1063.3,372.3 1064.2,361.3 1065.2,375.6 1066.1,363.8 1067.1,372.1 1068,363 1069,373.8 1069.9,363.1 1070.9,372 1071.8,363.6 1072.8,374.1 1073.7,362.7 1074.7,375.5 1075.6,361.1 1076.6,375.8 1077.5,362 1078.5,372.8 1079.4,360.3 1080.4,374.5 1081.4,360.5 1082.3,365.8 1083.3,369.3 1084.2,364.8 1085.2,372.1 1086.1,365.2 1087.1,374.6 1088,365.3 1089,369.1 1089.9,367.5 1090.9,370.6 1091.8,367.8 1092.8,371.1 1093.7,367.4 1094.7,372.4 1095.6,364.3 1096.6,376.4 1097.5,365.9 1098.5,374.4 1099.4,366.8 1100.4,370.1 1101.3,362.5 1102.3,369.9 1103.2,368.8 1104.2,371 1105.1,365.9 1106.1,371.6 1107,368.8 1108,370.8 1109,367 1109.9,369.6 1110.9,368 1111.8,372.2 1112.8,365.2 1113.7,373.7 1114.7,364.1 1115.6,370.2 1116.6,365.2 1117.5,369.1 1118.5,367.5 1119.4,370.1 1120.4,368.6 1121.3,370.6 1122.3,369.3 1123.2,369.7 1124.2,366.8 1125.1,371.3 1126.1,363.5 1127,369.9 1128,368 1128.9,371.4 1129.9,367.7 1130.8,376.2 1131.8,367.9 1132.7,369 1133.7,367.5 1134.7,369.8 1135.6,366.7 1136.6,372.2 1137.5,366.4 1138.5,369.6 1139.4,365.5 1140.4,372 1141.3,366.7 1142.3,371.7 1143.2,365.8 1144.2,370.8 1145.1,367.8 1146.1,371.5 1147,365.8 1148,368.3 1148.9,364.8 1149.9,368.9 1150.8,361.6 1151.8,370.4 1152.7,366.6 1153.7,369.1 1154.6,364.1 1155.6,368.3 1156.5,365.3 1157.5,370.1 1158.4,368.8 1159.4,369.5 1160.3,365.5 1161.3,376.3 1162.3,364.2 1163.2,370.9 1164.2,368.7 1165.1,371.3 1166.1,362.1 1167,374.4 1168,363.8 1168.9,374.8 1169.9,362.4 1170.8,369.3 1171.8,368.8 1172.7,369.4 1173.7,368.7 1174.6,369.2 1175.6,365.6 1176.5,368.8 1177.5,361.6 1178.4,373.7 1179.4,361.9 1180.3,374.2 1181.3,361.9 1182.2,373.3 1183.2,368.6 1184.1,371.7 1185.1,368.4 1186,371.8 1187,365.7" fill="none" stroke="#ff0000" stroke-width="0.85" stroke-linejoin="round"/>
<path d="M1209.2,341 1211.3,432.7 1214.1,350.9 1218.3,340.3 1221.2,441.9 1224.7,342.4 1228.9,336.1 1231.3,363.6 1231.9,446.1 1236,366.4 1238.1,329 1240.6,352.3 1241.2,441.9 1245.8,334 1249.4,335.4 1251.5,345.3 1253.3,443.3 1257.1,342.4 1260.6,343.9 1262.8,417.9 1265.6,343.9 1268.4,346.7 1269.4,451 1273.3,359.4 1275.5,331.9 1278.3,340.3 1280.4,406.6 1283.9,346.7 1285.8,449.6 1288.9,359.4 1291.4,337.5 1293.1,388.3 1295.2,340.3 1296.6,389.7 1298,340.3 1300.1,405.9 1303,407.3 1304.4,335.4 1306.5,334 1309.3,356.5 1312.8,463 1315.7,352.3 1318.5,327.6 1319.9,386.2 1322,331.2 1324.8,389 1325.5,405.2 1329.8,335.4 1331.9,343.9 1333.7,448.2 1337.5,338.2 1338.9,336.8 1340.3,388.3 1344.6,329.7 1347.4,349.5 1349.8,474.3 1353,348.1 1356.8,322.7 1359.4,339.6 1361.1,460.9 1363.6,363.6 1366.7,324.8 1369.3,338.2 1373.5,379.1 1377,376.3 1379.8,381.2 1383.4,370.6 1386.2,369.9 1389,365.7 1390.5,372.9 1392.1,363.9 1393.7,371.7 1395.3,367 1396.9,374.9 1398.6,367.8 1400.2,371 1401.8,365.4 1403.4,370.5 1405,363.6 1406.6,370 1408.2,367.8 1409.8,370.5 1411.5,363.7 1413.1,369.9 1414.7,366.2 1416.3,368 1417.9,363.7 1419.5,370.5 1421.1,367.4 1422.7,369.6 1424.4,367.9 1426,373.4 1427.6,367.5 1429.2,368.7 1430.8,367.3 1432.4,368.3 1434,367.3 1435.6,373.4 1437.3,364 1438.9,371.3 1440.5,362.4 1442.1,369.1 1443.7,364.6 1445.3,370.1 1446.9,363.9 1448.5,372.7 1450.2,365.6 1451.8,375.4 1453.4,364.8 1455,371.8 1456.6,365.8 1458.2,362.1 1459.8,372.6 1461.4,359.4 1463,375.1 1464.7,356.7 1466.3,364.6 1467.9,370.1 1469.5,367 1471.1,370.8 1472.7,367.2 1474.3,370.6 1475.9,363.6 1477.6,373.2 1479.2,367.1 1480.8,369.2 1482.4,360.1 1484,369.8 1485.6,367.1 1487.2,367.4 1488.8,364.8 1490.5,370.1 1492.1,366 1493.7,372.4 1495.3,366.8 1496.9,369.4 1498.5,367.4 1500.1,370.3 1501.7,367.5 1503.4,371.7 1505,366 1506.6,368.7 1508.2,362.5 1509.8,368.9 1511.4,366.5 1513,372.4 1514.6,366.1 1516.3,369.8 1517.9,362.5 1519.5,375.8 1521.1,367.9 1522.7,372.7 1524.3,367.2 1525.9,373.3 1527.5,366.2 1529.1,367.8 1530.8,365.4 1532.4,369.5 1534,367.2 1535.6,369.5 1537.2,364.2 1538.8,370.4 1540.4,368.5 1542,372.5 1543.7,368.5 1545.3,370.4 1546.9,367.6 1548.5,370.2 1550.1,366.5 1551.7,370.8 1553.3,363.3 1554.9,368.4 1556.6,366.4 1558.2,368.2 1559.8,367.9 1561.4,371.4 1563,362.4 1564.6,368.9 1566.2,364.5 1567.8,370.9 1569.5,367.9 1571.1,369.7 1572.7,363.7 1574.3,369.5 1575.9,363.5 1577.5,370.1 1579.1,365.7 1580.7,373.4 1582.4,368.4 1584,369.6 1585.6,365.1 1587.2,372.2 1588.8,368.5 1590.4,370 1592,366.2 1593.6,369.9 1595.2,368.3 1596.9,370.9 1598.5,365.7 1600.1,371.1 1601.7,366.7 1603.3,371.2 1604.9,367.4 1606.5,368.4 1608.1,365.8 1609.8,368.2 1611.4,365.4 1613,370.5 1614.6,367.7 1616.2,371.2 1617.8,365.9 1619.4,369.3 1621,362.1 1622.7,370.8 1624.3,367.5 1625.9,371.8 1627.5,365.8 1629.1,372.6 1630.7,366.4 1632.3,368.5 1633.9,367.7 1635.6,372.8 1637.2,367.9 1638.8,370 1640.4,363.3 1642,372.5 1643.6,366 1645.2,371.4 1646.8,367 1648.5,374.3 1650.1,367.8 1651.7,371 1653.3,361.7 1654.9,370 1656.5,367.8 1658.1,369.3 1659.7,364.4 1661.4,361.2 1663,374.6 1664.6,370.6 1666.2,367.6 1667.8,369 1669.4,366 1671,377.7 1672.6,368.2 1674.2,369.4 1675.9,362.9 1677.5,369.9 1679.1,368.5 1680.7,369.2 1682.3,368.8 1683.9,370.4 1685.5,366.9 1687.1,370.9 1688.8,367.4 1690.4,368.2 1692,357.7 1693.6,373.4 1695.2,361.2 1696.8,372.5 1698.4,364.3 1700,374.2 1701.7,364.1 1703.3,369.7 1704.9,366.7 1706.5,369.8 1708.1,366.9 1709.7,368.7 1711.3,365.3 1712.9,372.7 1714.6,366.6 1716.2,371 1717.8,367.5 1719.4,372.5 1721,365.1 1722.6,369.5 1724.2,362.9 1725.8,369.9 1727.5,364.1 1729.1,371.7 1730.7,367 1732.3,372.3 1733.9,367.1 1735.5,369 1737.1,368 1738.7,371.6 1740.3,367.6 1742,371.5 1743.6,361.4 1745.2,376.4 1746.8,366.8 1748.4,369.5 1750,364.5 1751.6,370.2 1753.2,365.1 1754.9,369.6 1756.5,365.1 1758.1,370.9 1759.7,366.6 1761.3,373 1762.9,363 1764.5,371.5 1766.1,365.5 1767.8,369.1 1769.4,365 1771,372.4 1772.6,366.9 1774.2,371.8 1775.8,365.9 1777.4,369.3 1779,363.6 1780.7,368.6 1782.3,365.2 1783.9,373.5 1785.5,364.3 1787.1,368.5 1788.7,368 1790.3,372.2 1791.9,365.6 1793.6,368.5 1795.2,362.8 1796.8,369.1 1798.4,367 1800,370.2" fill="none" stroke="#ff0000" stroke-width="1.7" stroke-linejoin="round"/>
<path d="M472,41.2 H503.3 M517.8,41.2 H548.1 M562.6,41.2 H592.9 M607.4,41.2 H637.7 M652.2,41.2 H682.5 M697,41.2 H727.3 M741.8,41.2 H772.1 M786.6,41.2 H816.9" fill="none" stroke="#00ff00" stroke-width="4.0" stroke-linecap="butt"/>
<path d="M472.5,41 V72 M472.5,86.3 V116.8 M472.5,131.1 V161.6 M472.5,175.9 V206.4 M472.5,220.7 V251.2 M472.5,265.5 V296 M472.5,310.3 V340.8 M472.5,355.1 V385.6 M472.5,399.9 V430.4 M472.5,444.7 V475.2" fill="none" stroke="#00ff00" stroke-width="4.2"/>
<path d="M831,42.2 V72.7 M831,87 V117.5 M831,131.8 V162.3 M831,176.6 V207.1 M831,221.4 V251.9 M831,266.2 V296.7 M831,311 V341.5 M831,355.8 V386.3 M831,400.6 V431.1 M831,445.4 V475.9" fill="none" stroke="#00ff00" stroke-width="4.2"/>
<path d="M480,482.5 H510 M524.8,482.5 H554.8 M569.6,482.5 H599.6 M614.4,482.5 H644.4 M659.2,482.5 H689.2 M704,482.5 H734 M748.8,482.5 H778.8 M793.6,482.5 H823.6" fill="none" stroke="#00ff00" stroke-width="4.0" stroke-linecap="butt"/>
<path d="M1202,43.8 H1226.7 M1241.5,43.8 H1271.5 M1286.2,43.8 H1316.2 M1331,43.8 H1361 M1375.7,43.8 H1405.7 M1420.5,43.8 H1450.5 M1465.2,43.8 H1495.2 M1510,43.8 H1540 M1554.7,43.8 H1584.7 M1599.5,43.8 H1629.5 M1644.2,43.8 H1674.2 M1689,43.8 H1719 M1733.7,43.8 H1763.7 M1778.5,43.8 H1806" fill="none" stroke="#00ff00" stroke-width="4.0" stroke-linecap="butt"/>
<rect x="1802" y="43" width="4" height="5.4" fill="#00ff00"/>
<path d="M1202.9,42 V73 M1202.9,87.3 V117.8 M1202.9,132.2 V162.7 M1202.9,177.1 V207.6 M1202.9,221.9 V252.4 M1202.9,266.8 V297.2 M1202.9,311.6 V342.1 M1202.9,356.4 V386.9 M1202.9,401.3 V431.8 M1202.9,446.2 V476.7" fill="none" stroke="#00ff00" stroke-width="4.4"/>
<path d="M1804,62.5 V93 M1804,107.3 V137.8 M1804,152.2 V182.7 M1804,197.1 V227.6 M1804,241.9 V272.4 M1804,286.8 V317.2 M1804,331.6 V362.1 M1804,376.4 V406.9 M1804,421.3 V451.8 M1804,466.2 V486.3" fill="none" stroke="#00ff00" stroke-width="4.2"/>
<path d="M1209.8,484.3 H1239.8 M1254.6,484.3 H1284.6 M1299.5,484.3 H1329.5 M1344.3,484.3 H1374.3 M1389.2,484.3 H1419.2 M1434,484.3 H1464 M1478.8,484.3 H1508.8 M1523.7,484.3 H1553.7 M1568.5,484.3 H1598.5 M1613.4,484.3 H1643.4 M1658.2,484.3 H1688.2 M1703.1,484.3 H1733.1 M1748,484.3 H1778 M1792.8,484.3 H1806.2" fill="none" stroke="#00ff00" stroke-width="4.0" stroke-linecap="butt"/>
<path d="M840.3,281.7 H873.2 M895.6,281.7 H928.5 M950.8,281.7 H983.8 M1006.1,281.7 H1039 M1061.3,281.7 H1094.2 M1116.6,281.7 H1149.5" fill="none" stroke="#00ff00" stroke-width="4.1" stroke-linecap="round"/>
<path d="M1171,281.8 H1176" fill="none" stroke="#00ff00" stroke-width="4" stroke-linecap="round"/>
<path d="M1174.2,275.2 L1188.2,281.9 L1174.2,289.2 Z" fill="#00ff00" stroke="#00ff00" stroke-width="0.8" stroke-linejoin="round"/>
<rect x="470" y="454" width="359" height="26" fill="#747a80" fill-opacity="0.533"/>
</g>
<g id="panelB">
<text transform="translate(15,616.2) scale(0.98,1)" font-family='"Liberation Sans", sans-serif' font-weight="bold" font-size="41">B</text>
<rect x="346.5" y="669.6" width="216.6" height="484.4" fill="#b4b8bb"/>
<clipPath id="cb"><rect x="133" y="600" width="650.2" height="560"/></clipPath>
<g clip-path="url(#cb)" fill="none" stroke="#ff0000" stroke-width="7.5" stroke-linecap="round" stroke-linejoin="round">
<path d="M131.8,859.9 H151.2 M131.8,961.6 H151.2 M139,860 H158.4 M139,966 H158.4 M146.2,885.4 H165.6 M146.2,976 H165.6 M153.4,882 H172.8 M153.4,959.7 H172.8 M160.6,900.8 H180 M160.6,965.4 H180 M167.8,912.1 H187.2 M167.8,965.4 H187.2 M175,893.9 H194.4 M175,965.4 H194.4 M182.2,900.2 H201.6 M182.2,949.1 H201.6 M189.5,920.9 H208.9 M189.5,965.4 H208.9 M196.7,870.1 H216.1 M196.7,943.4 H216.1 M203.9,882 H223.3 M203.9,970.4 H223.3 M211.1,925.9 H230.5 M211.1,971 H230.5 M218.3,971.8 H237.7 M218.3,1009.3 H237.7 M225.5,942.7 H244.9 M225.5,990.4 H244.9 M232.7,942.7 H252.1 M232.7,1001.9 H252.1 M239.9,942.7 H259.3 M239.9,1001 H259.3 M247.1,912.1 H266.5 M247.1,983.7 H266.5 M254.3,928.4 H273.7 M254.3,1003 H273.7 M261.5,934.1 H280.9 M261.5,972.4 H280.9 M268.7,960.6 H288.1 M268.7,1003.4 H288.1 M275.9,934.3 H295.3 M275.9,982.8 H295.3 M283.1,960.9 H302.5 M283.1,1003 H302.5 M290.3,944.2 H309.7 M290.3,994.1 H309.7 M297.5,899.9 H316.9 M297.5,983.7 H316.9 M304.7,938.2 H324.1 M304.7,989.1 H324.1 M311.9,954.5 H331.3 M311.9,988.5 H331.3 M319.2,923.7 H338.6 M319.2,969.1 H338.6 M326.4,940.3 H345.8 M326.4,980.4 H345.8 M333.6,983.7 H353 M333.6,1013 H353 M340.8,967.3 H360.2 M340.8,1012.8 H360.2 M348,959.6 H367.4 M348,1009.2 H367.4 M355.2,939.9 H374.6 M355.2,984.1 H374.6 M362.4,960 H381.8 M362.4,1005.1 H381.8 M369.6,888.5 H389 M369.6,967.2 H389 M376.8,901.7 H396.2 M376.8,978.9 H396.2 M384,903.6 H403.4 M384,966.8 H403.4 M391.2,828.9 H410.6 M391.2,927.7 H410.6 M398.4,828.9 H417.8 M398.4,939.3 H417.8 M405.6,811.3 H425 M405.6,903.8 H425 M412.8,794.5 H432.2 M412.8,908.1 H432.2 M420,810.5 H439.4 M420,913.6 H439.4 M427.2,809.5 H446.6 M427.2,913.6 H446.6 M434.4,828.9 H453.8 M434.4,927.3 H453.8 M441.6,720.5 H461 M441.6,847.7 H461 M448.9,742.8 H468.3 M448.9,877.8 H468.3 M456.1,731.5 H475.5 M456.1,870.8 H475.5 M463.3,726.5 H482.7 M463.3,870.5 H482.7 M470.5,724.2 H489.9 M470.5,853 H489.9 M477.7,724.2 H497.1 M477.7,845.5 H497.1 M484.9,702.1 H504.3 M484.9,823.9 H504.3 M492.1,706 H511.5 M492.1,832.3 H511.5 M499.3,666.9 H518.7 M499.3,786.7 H518.7 M506.5,699 H525.9 M506.5,819.8 H525.9 M513.7,732.8 H533.1 M513.7,824.2 H533.1 M520.9,712.7 H540.3 M520.9,813.9 H540.3 M528.1,674.5 H547.5 M528.1,794.3 H547.5 M535.3,650.6 H554.7 M535.3,783.6 H554.7 M542.5,731.1 H561.9 M542.5,822.3 H561.9 M549.7,743.3 H569.1 M549.7,833.7 H569.1 M556.9,743.3 H576.3 M556.9,850 H576.3 M564.1,693.5 H583.5 M564.1,817.1 H583.5 M571.3,701.7 H590.7 M571.3,817.1 H590.7 M578.6,733 H598 M578.6,843.7 H598 M585.8,720.2 H605.2 M585.8,828.7 H605.2 M593,751.5 H612.4 M593,855.7 H612.4 M600.2,723.3 H619.6 M600.2,828.9 H619.6 M607.4,689.8 H626.8 M607.4,828.9 H626.8 M614.6,723.3 H634 M614.6,834.1 H634 M621.8,723.3 H641.2 M621.8,818.4 H641.2 M629,678.5 H648.4 M629,799.2 H648.4 M636.2,728.7 H655.6 M636.2,835.3 H655.6 M643.4,740.6 H662.8 M643.4,843.5 H662.8 M650.6,740.6 H670 M650.6,840.3 H670 M657.8,709.2 H677.2 M657.8,814 H677.2 M665,710.5 H684.4 M665,833.7 H684.4 M672.2,702.9 H691.6 M672.2,794.3 H691.6 M679.4,687.2 H698.8 M679.4,817.1 H698.8 M686.6,707.7 H706 M686.6,816.5 H706 M693.8,738.4 H713.2 M693.8,817.2 H713.2 M701,749.7 H720.4 M701,835.3 H720.4 M708.3,707.7 H727.7 M708.3,813.6 H727.7 M715.5,680.3 H734.9 M715.5,809.8 H734.9 M722.7,686.6 H742.1 M722.7,809.8 H742.1 M729.9,692.9 H749.3 M729.9,809.8 H749.3 M737.1,722.1 H756.5 M737.1,834.7 H756.5 M744.3,722.1 H763.7 M744.3,816.5 H763.7 M751.5,778.5 H770.9 M751.5,852.5 H770.9 M758.7,716.7 H778.1 M758.7,825.5 H778.1 M765.9,709.2 H785.3 M765.9,825.5 H785.3 M773.1,701.7 H792.5 M773.1,825.5 H792.5"/>
<path stroke-width="7.2" stroke-linecap="butt" d="M141.5,859.9 V961.6 M148.7,860 V966 M155.9,885.4 V976 M163.1,882 V959.7 M170.3,900.8 V965.4 M177.5,912.1 V965.4 M184.7,893.9 V965.4 M191.9,900.2 V949.1 M199.2,920.9 V965.4 M206.4,870.1 V943.4 M213.6,882 V970.4 M220.8,925.9 V971 M228,971.8 V1009.3 M235.2,942.7 V990.4 M242.4,942.7 V1001.9 M249.6,942.7 V1001 M256.8,912.1 V983.7 M264,928.4 V1003 M271.2,934.1 V972.4 M278.4,960.6 V1003.4 M285.6,934.3 V982.8 M292.8,960.9 V1003 M300,944.2 V994.1 M307.2,899.9 V983.7 M314.4,938.2 V989.1 M321.6,954.5 V988.5 M328.9,923.7 V969.1 M336.1,940.3 V980.4 M343.3,983.7 V1013 M350.5,967.3 V1012.8 M357.7,959.6 V1009.2 M364.9,939.9 V984.1 M372.1,960 V1005.1 M379.3,888.5 V967.2 M386.5,901.7 V978.9 M393.7,903.6 V966.8 M400.9,828.9 V927.7 M408.1,828.9 V939.3 M415.3,811.3 V903.8 M422.5,794.5 V908.1 M429.7,810.5 V913.6 M436.9,809.5 V913.6 M444.1,828.9 V927.3 M451.3,720.5 V847.7 M458.6,742.8 V877.8 M465.8,731.5 V870.8 M473,726.5 V870.5 M480.2,724.2 V853 M487.4,724.2 V845.5 M494.6,702.1 V823.9 M501.8,706 V832.3 M509,666.9 V786.7 M516.2,699 V819.8 M523.4,732.8 V824.2 M530.6,712.7 V813.9 M537.8,674.5 V794.3 M545,650.6 V783.6 M552.2,731.1 V822.3 M559.4,743.3 V833.7 M566.6,743.3 V850 M573.8,693.5 V817.1 M581,701.7 V817.1 M588.3,733 V843.7 M595.5,720.2 V828.7 M602.7,751.5 V855.7 M609.9,723.3 V828.9 M617.1,689.8 V828.9 M624.3,723.3 V834.1 M631.5,723.3 V818.4 M638.7,678.5 V799.2 M645.9,728.7 V835.3 M653.1,740.6 V843.5 M660.3,740.6 V840.3 M667.5,709.2 V814 M674.7,710.5 V833.7 M681.9,702.9 V794.3 M689.1,687.2 V817.1 M696.3,707.7 V816.5 M703.5,738.4 V817.2 M710.7,749.7 V835.3 M718,707.7 V813.6 M725.2,680.3 V809.8 M732.4,686.6 V809.8 M739.6,692.9 V809.8 M746.8,722.1 V834.7 M754,722.1 V816.5 M761.2,778.5 V852.5 M768.4,716.7 V825.5 M775.6,709.2 V825.5 M782.8,701.7 V825.5"/>
<path d="M141.5,910.7 148.7,913 155.9,930.7 163.1,920.9 170.3,933.1 177.5,938.8 184.7,929.6 191.9,924.6 199.2,943.1 206.4,906.7 213.6,926.2 220.8,948.4 228,990.6 235.2,966.6 242.4,972.3 249.6,971.8 256.8,947.9 264,965.7 271.2,953.2 278.4,982 285.6,958.6 292.8,982 300,969.1 307.2,941.8 314.4,963.7 321.6,971.5 328.9,946.4 336.1,960.3 343.3,998.3 350.5,990.1 357.7,984.4 364.9,962 372.1,982.5 379.3,927.9 386.5,940.3 393.7,935.2 400.9,878.3 408.1,884.1 415.3,857.6 422.5,851.3 429.7,862 436.9,861.5 444.1,878.1 451.3,784.1 458.6,810.3 465.8,801.1 473,798.5 480.2,788.6 487.4,784.8 494.6,763 501.8,769.1 509,726.8 516.2,759.4 523.4,778.5 530.6,763.3 537.8,734.4 545,717.1 552.2,776.7 559.4,788.5 566.6,796.7 573.8,755.3 581,759.4 588.3,788.4 595.5,774.5 602.7,803.6 609.9,776.1 617.1,759.3 624.3,778.7 631.5,770.9 638.7,738.9 645.9,782 653.1,792 660.3,790.4 667.5,761.6 674.7,772.1 681.9,748.6 689.1,752.1 696.3,762.1 703.5,777.8 710.7,792.5 718,760.7 725.2,745 732.4,748.2 739.6,751.3 746.8,778.4 754,769.3 761.2,815.5 768.4,771.1 775.6,767.3 782.8,763.6"/>
</g>
<g stroke="#000" stroke-width="2.8" fill="none" stroke-linejoin="round">
<path d="M125.7,612.2 H133.8 V1158.5 H782.4 V1166.8"/>
<path d="M125.7,1158.5 H133.8"/>
<path d="M125.7,976.4 H133.8"/>
<path d="M125.7,794.3 H133.8"/>
<path d="M133.9,1158.5 V1166.8"/>
<path d="M350.1,1158.5 V1166.8"/>
<path d="M566.2,1158.5 V1166.8"/>
</g>
<g font-family='"Liberation Serif", serif' fill="#000" font-size="36">
<text x="119.3" y="1169.3" font-size="36" text-anchor="end">0.0</text>
<text x="119.3" y="987.2" font-size="36" text-anchor="end">0.2</text>
<text x="119.3" y="805.1" font-size="36" text-anchor="end">0.4</text>
<text x="119.3" y="623" font-size="36" text-anchor="end">0.6</text>
<text x="134.2" y="1200.6" font-size="36" text-anchor="middle">0</text>
<text x="350.4" y="1200.6" font-size="36" text-anchor="middle">30</text>
<text x="566.5" y="1200.6" font-size="36" text-anchor="middle">60</text>
<text x="782.7" y="1200.6" font-size="36" text-anchor="middle">90</text>
<text x="243" y="653.8" font-size="36">LIPUS group N=7</text>
</g>
<line x1="151.6" y1="641.5" x2="232" y2="641.5" stroke="#ff0000" stroke-width="7.8" stroke-linecap="round"/>
<g font-family='"Liberation Serif", serif' fill="#000" text-anchor="middle">
<text x="234.5" y="1095.8" font-size="42">Before</text>
<text x="234.5" y="1145.7" font-size="42">LIPUS</text>
<text x="451" y="1095.8" font-size="42">During</text>
<text x="451" y="1145.7" font-size="42">LIPUS</text>
<text x="671" y="1095.8" font-size="42">After</text>
<text x="671" y="1145.7" font-size="42">LIPUS</text>
<text x="458.5" y="1264" font-size="42.3">Time (ms)</text>
<text transform="translate(33,865) rotate(-90)" font-size="42">Complexity</text>
</g>
</g>
<g id="panelC">
<text transform="translate(996,613) scale(0.98,1)" font-family='"Liberation Sans", sans-serif' font-weight="bold" font-size="41">C</text>
<rect x="1212.8" y="1002.6" width="86.4" height="155.6" fill="#f93c3c" stroke="#ff1010" stroke-width="1.6"/>
<path d="M1256,1003.8 V961.5 M1245.2,961.5 H1266.8" fill="none" stroke="#ff0000" stroke-width="6.5" stroke-linecap="round"/>
<rect x="1429.3" y="912.6" width="86.1" height="245.6" fill="#f93c3c" stroke="#ff1010" stroke-width="1.6"/>
<path d="M1472.3,913.8 V822.5 M1461.5,822.5 H1483.1" fill="none" stroke="#ff0000" stroke-width="6.5" stroke-linecap="round"/>
<rect x="1645.8" y="866.6" width="86.1" height="291.6" fill="#f93c3c" stroke="#ff1010" stroke-width="1.6"/>
<path d="M1688.8,867.8 V740.5 M1678,740.5 H1699.6" fill="none" stroke="#ff0000" stroke-width="6.5" stroke-linecap="round"/>
<g stroke="#000" stroke-width="2.8" fill="none" stroke-linejoin="round">
<path d="M1139.2,612.5 H1147.5 V1158.2 H1797.5"/>
<path d="M1139.2,1158.2 H1147.5"/>
<path d="M1139.2,1021.8 H1147.5"/>
<path d="M1139.2,885.4 H1147.5"/>
<path d="M1139.2,748.9 H1147.5"/>
<path d="M1256,1158.2 V1167"/>
<path d="M1472.4,1158.2 V1167"/>
<path d="M1688.8,1158.2 V1167"/>
</g>
<g font-family='"Liberation Serif", serif' fill="#000" font-size="36">
<text x="1132.8" y="1169" font-size="36" text-anchor="end">0.0</text>
<text x="1132.8" y="1032.6" font-size="36" text-anchor="end">0.2</text>
<text x="1132.8" y="896.2" font-size="36" text-anchor="end">0.4</text>
<text x="1132.8" y="759.7" font-size="36" text-anchor="end">0.6</text>
<text x="1132.8" y="623.3" font-size="36" text-anchor="end">0.8</text>
<text x="1265" y="661.8" font-size="36">LIPUS group N=7</text>
<text x="1256.4" y="1200.8" font-size="36" text-anchor="middle">Before LIPUS</text>
<text x="1472.5" y="1200.8" font-size="36" text-anchor="middle">During LIPUS</text>
<text x="1689" y="1200.8" font-size="36" text-anchor="middle">After LIPUS</text>
</g>
<rect x="1174.1" y="630.4" width="79.6" height="37.8" fill="#f93c3c" stroke="#ff1010" stroke-width="1.4"/>
<text transform="translate(1072,886) rotate(-90)" font-family='"Liberation Serif", serif' font-size="42" text-anchor="middle">Complexity</text>
<g stroke="#7a7a7a" stroke-width="1.8" fill="none">
<path d="M1256.5,807.5 V793.4 H1472.5 V807.5"/>
<path d="M1256.5,731.5 V717.4 H1689.3 V731.5"/>
</g>
<g font-family='"Liberation Serif", serif' fill="#111" font-size="26" text-anchor="middle">
<text transform="translate(1368.1,801.8) scale(1.07,1.47)">*</text>
<text transform="translate(1477.4,725.8) scale(1.07,1.47)" letter-spacing="1.9">**</text>
</g>
</g>
</svg>
</body>
</html>
